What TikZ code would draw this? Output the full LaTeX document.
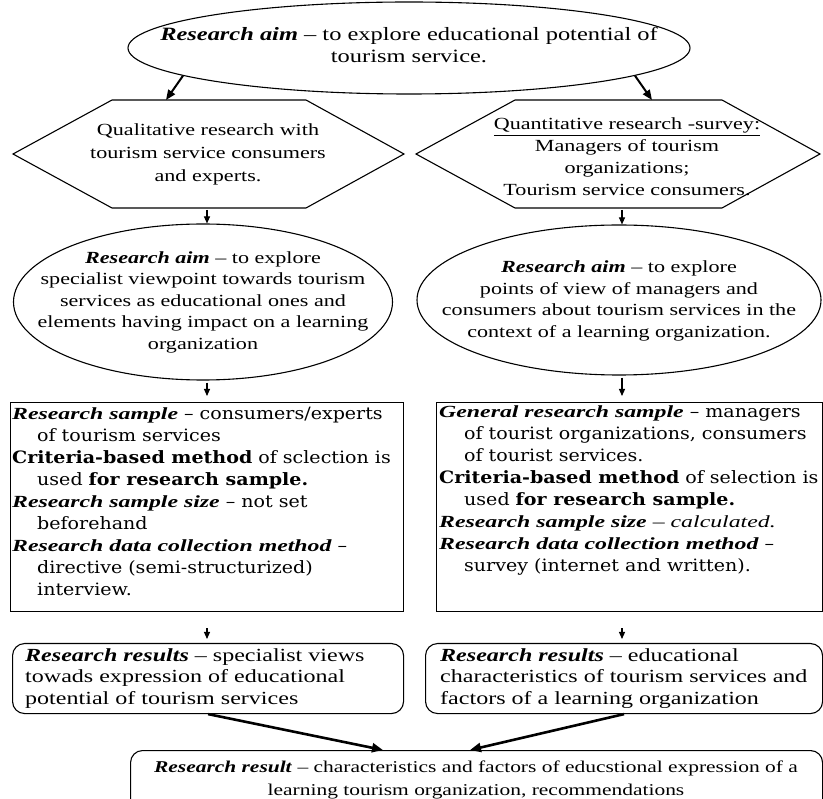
\documentclass[tikz,border=0pt]{standalone}
\usepackage{fontspec}
\setmainfont{Liberation Serif}
\newfontfamily\fA[FakeStretch=1.3]{Liberation Serif}
\newfontfamily\fB[FakeStretch=1.12]{DejaVu Serif}
\newfontfamily\fBi[FakeStretch=1.4]{Liberation Serif}
\usetikzlibrary{arrows.meta,shapes.geometric}
\newcommand{\bia}[1]{\textbf{\textit{#1}}}
\newcommand{\bib}[1]{{\fBi\bfseries\itshape #1}}
\begin{document}
\begin{tikzpicture}[x=1pt,y=-1pt,
  shp/.style={draw, line width=1.1pt, inner sep=0pt},
  txt/.style={align=center, inner sep=0pt},
  ltxt/.style={align=left, inner sep=0pt, anchor=north west},
  fontA/.style={font=\fA\fontsize{18.8}{22}\selectfont},
  fontH/.style={font=\fA\fontsize{17}{23}\selectfont},
  fontH2/.style={font=\fA\fontsize{17}{22}\selectfont},
  fontE/.style={font=\fA\fontsize{17}{21.5}\selectfont},
  fontBx/.style={font=\fB\fontsize{17}{22}\selectfont},
  fontR/.style={font=\fA\fontsize{18.5}{21.5}\selectfont},
  fontBt/.style={font=\fA\fontsize{16.5}{23}\selectfont},
  darr/.style={-{Triangle[length=7pt,width=6pt]}, line width=1.1pt},
  sarr/.style={-{Triangle[length=10pt,width=8pt]}, line width=2pt},
  barr/.style={-{Triangle[length=11pt,width=9pt]}, line width=2.6pt},
  rbox/.style={draw, line width=1.1pt, rounded corners=12pt, inner sep=0pt},
  sbox/.style={draw, line width=1.3pt, inner sep=0pt}
]
\useasboundingbox (0,0) rectangle (823,799);
\fill[white] (0,0) rectangle (823,799);
\clip (0,0) rectangle (823,799);

% column coordinates
\coordinate (cL) at (207,0);
\coordinate (cR) at (622,0);

% top ellipse
\node[ellipse, shp, minimum width=562pt, minimum height=92pt] (e0) at (409,48) {};
\node[txt, fontA] (t0) at (409,45) {\bia{Research aim} – to explore educational potential of\\tourism service.};

% hexagons
\draw[line width=1.1pt] (13,154) -- (112,100) -- (306,100) -- (404,154) -- (306,208) -- (112,208) -- cycle;
\draw[line width=1.1pt] (416,154) -- (515,100) -- (722,100) -- (820,154) -- (722,208) -- (515,208) -- cycle;
\node[txt, fontH] (h1) at (208,154) {Qualitative research with\\tourism service consumers\\and experts.};
\node[txt, fontH2] (h2) at (627,157) {\underline{Quantitative research -survey:}\\Managers of tourism\\organizations;\\Tourism service consumers.};
\coordinate (h1in) at (166,100);
\coordinate (h2in) at (652,100);
\coordinate (h1out) at (207,210);
\coordinate (h2out) at (622,210);

\draw[sarr] (e0.187) -- (h1in);
\draw[sarr] (e0.-7) -- (h2in);

% second-row ellipses
\node[ellipse, shp, minimum width=379pt, minimum height=156pt] (e1) at (203,302) {};
\node[ellipse, shp, minimum width=404pt, minimum height=150pt] (e2) at (619,300) {};
\node[txt, fontE] (t1) at (203,302) {\bia{Research aim} – to explore\\specialist viewpoint towards tourism\\services as educational ones and\\elements having impact on a learning\\organization};
\node[txt, fontE] (t2) at (619,301) {\bia{Research aim} – to explore\\points of view of managers and\\consumers about tourism services in the\\context of a learning organization.};

\draw[darr] (h1out) -- (h1out |- e1.north);
\draw[darr] (h2out) -- (h2out |- e2.north);

% method boxes
\node[sbox, minimum width=393pt, minimum height=209pt, anchor=north west] (b1) at (10,402) {};
\node[sbox, minimum width=386pt, minimum height=209pt, anchor=north west] (b2) at (436,402) {};
\node[ltxt, fontBx] (bt1) at (12,407) {\bib{Research sample} – consumers/experts\\
\hspace*{25pt}of tourism services\\
\textbf{Criteria-based method} of sclection is\\
\hspace*{25pt}used \textbf{for research sample.}\\
\bib{Research sample size} – not set\\
\hspace*{25pt}beforehand\\
\bib{Research data collection method} –\\
\hspace*{25pt}directive (semi-structurized)\\
\hspace*{25pt}interview.};
\node[ltxt, fontBx] (bt2) at (439,406) {\bib{General research sample} – managers\\
\hspace*{25pt}of tourist organizations, consumers\\
\hspace*{25pt}of tourist services.\\
\textbf{Criteria-based method} of selection is\\
\hspace*{25pt}used \textbf{for research sample.}\\
\bib{Research sample size} {\fBi\itshape – calculated.}\\
\bib{Research data collection method} –\\
\hspace*{25pt}survey (internet and written).};

\draw[darr, shorten <=2pt, shorten >=6pt] (e1.south -| cL) -- (b1.north -| cL);
\draw[darr, shorten <=2pt, shorten >=6pt] (e2.south -| cR) -- (b2.north -| cR);

% results boxes
\node[rbox, minimum width=391pt, minimum height=70pt, anchor=north west] (r1) at (12,643) {};
\node[rbox, minimum width=397pt, minimum height=70pt, anchor=north west] (r2) at (425,643) {};
\node[ltxt, fontR] (rt1) at (25,648) {\bia{Research results} – specialist views\\towads expression of educational\\potential of tourism services};
\node[ltxt, fontR] (rt2) at (440,648) {\bia{Research results} – educational\\characteristics of tourism services and\\factors of a learning organization};

\draw[darr, shorten <=16pt, shorten >=4pt] (b1.south -| cL) -- (r1.north -| cL);
\draw[darr, shorten <=16pt, shorten >=4pt] (b2.south -| cR) -- (r2.north -| cR);

% final box
\node[rbox, minimum width=692pt, minimum height=90pt, anchor=north west] (fb) at (130,750) {};
\node[txt, fontBt] (ft) at (476,780) {\bia{Research result} – characteristics and factors of educstional expression of a\\learning tourism organization, recommendations};
\coordinate (fin1) at (383,750);
\coordinate (fin2) at (470,750);
\draw[barr] (r1.south) -- (fin1);
\draw[barr] (r2.south) -- (fin2);
\end{tikzpicture}
\end{document}
